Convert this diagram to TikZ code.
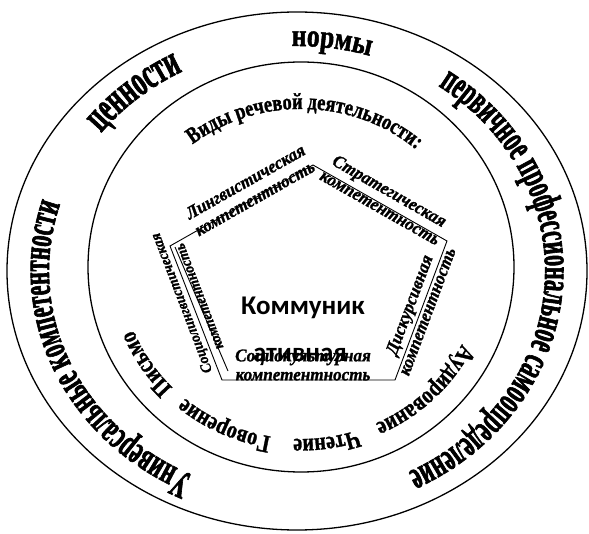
\documentclass[tikz,border=0pt]{standalone}
\usepackage{fontspec}
\setmainfont{Liberation Serif}
\newfontfamily\ringfont[FakeStretch=0.56,FakeBold=1.5]{Liberation Serif}
\newfontfamily\normfont[FakeStretch=0.8,FakeBold=1.5]{Liberation Serif}
\newfontfamily\midfont[FakeStretch=0.8,FakeBold=1.2]{Liberation Serif}
\newfontfamily\labfont[FakeStretch=0.95,FakeBold=1.2]{Liberation Serif}
\newfontfamily\kommfont{Carlito}
\usetikzlibrary{decorations.text,positioning}

\begin{document}
\begin{tikzpicture}[x=1pt,y=1pt,
  rim/.style={line width=1.3pt},
  side/.style={line width=0.9pt},
  arctext/.style={decorate,decoration={text along path,text align=center,text={#1}}},
  lab/.style={font=\labfont\bfseries\itshape\fontsize{18}{19}\selectfont,align=center,inner sep=0pt}]
  \useasboundingbox (0,0) rectangle (589,533);

  % rings
  \coordinate (outc) at (297,262);
  \coordinate (inc)  at (301,266);
  \draw[rim] (outc) ellipse [x radius=290pt, y radius=259pt];
  \draw[rim] (inc) ellipse [x radius=213pt, y radius=205pt];

  % outer ring words
  \path[arctext={|\ringfont\bfseries\fontsize{40}{40}\selectfont|Универсальные компетентности}]
    (outc) ++(258:248pt and 225pt) arc [start angle=258, end angle=149, x radius=248pt, y radius=225pt];
  \path[arctext={|\ringfont\bfseries\fontsize{44}{44}\selectfont|ценности}]
    (outc) ++(150:248pt and 225pt) arc [start angle=150, end angle=110, x radius=248pt, y radius=225pt];
  \path[arctext={|\normfont\bfseries\fontsize{32}{32}\selectfont|нормы}]
    (outc) ++(100:248pt and 225pt) arc [start angle=100, end angle=64, x radius=248pt, y radius=225pt];
  \path[arctext={|\ringfont\bfseries\fontsize{40}{40}\selectfont|первичное профессиональное самоопределение}]
    (outc) ++(70:248pt and 225pt) arc [start angle=70, end angle=-78, x radius=248pt, y radius=225pt];

  % inner ring words
  \path[arctext={|\midfont\bfseries\fontsize{23}{23}\selectfont|Виды речевой деятельности:}]
    (inc) ++(140:172pt and 158pt) arc [start angle=140, end angle=37, x radius=172pt, y radius=158pt];
  \path[arctext={|\midfont\bfseries\fontsize{25}{25}\selectfont|Аудирование}]
    (inc) ++(-20:180pt and 172pt) arc [start angle=-20, end angle=-72, x radius=180pt, y radius=172pt];
  \path[arctext={|\midfont\bfseries\fontsize{25}{25}\selectfont|Чтение}]
    (inc) ++(-68:180pt and 172pt) arc [start angle=-68, end angle=-96, x radius=180pt, y radius=172pt];
  \path[arctext={|\midfont\bfseries\fontsize{25}{25}\selectfont|Говорение}]
    (inc) ++(-93:180pt and 172pt) arc [start angle=-93, end angle=-137, x radius=180pt, y radius=172pt];
  \path[arctext={|\midfont\bfseries\fontsize{25}{25}\selectfont|Письмо}]
    (inc) ++(-133:180pt and 172pt) arc [start angle=-133, end angle=-161, x radius=180pt, y radius=172pt];

  % pentagon
  \coordinate (ptop)   at (313,368);
  \coordinate (pright) at (447,292);
  \coordinate (pbr)    at (395,153);
  \coordinate (pbl)    at (222,153);
  \coordinate (pleft)  at (170,287);
  \coordinate (pleftb) at (175,286);
  \coordinate (pblb)   at (228,162);
  \draw[side] (ptop) -- (pright) -- (pbr) -- (pbl) -- (pleft) -- cycle;
  \draw[side] (pleftb) -- (pblb);

  \node[lab, rotate=29.5] (ling) at (250,343) {Лингвистическая\\компетентность};
  \node[lab, rotate=-29.6] (strat) at (385,334) {Стратегическая\\компетентность};
  \node[lab, rotate=69.5] (disk) at (418,225) {Дискурсивная\\компетентность};
  \node[lab, rotate=111, font=\labfont\bfseries\itshape\fontsize{15}{19}\selectfont] (socling) at (190,233) {Социолингвистическая\\компетентность};
  \node[lab] (soccult) at (303,168) {Социокультурная\\компетентность};

  \node[font=\kommfont\bfseries\fontsize{27}{27}\selectfont] (komm) at (303,225) {Коммуник};
  \node[font=\kommfont\bfseries\fontsize{27}{27}\selectfont] (kommb) at (300,178) {ативная};
\end{tikzpicture}
\end{document}
